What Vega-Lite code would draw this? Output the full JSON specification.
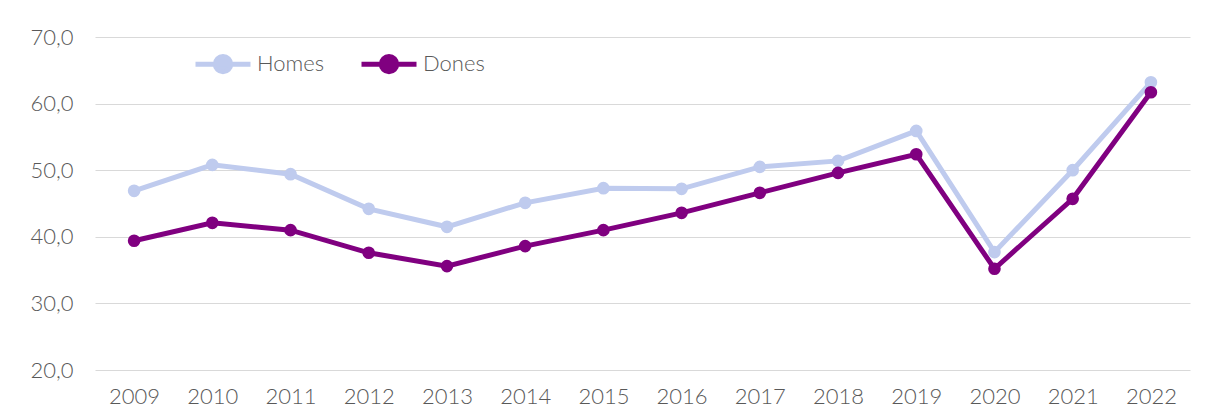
{
  "$schema": "https://vega.github.io/schema/vega-lite/v6.json",
  "width": 1095,
  "height": 333,
  "autosize": {"type": "none"},
  "padding": {"left": 95, "top": 37, "right": 15, "bottom": 50},
  "background": "white",
  "config": {
    "view": {"stroke": null},
    "font": "Lato",
    "axis": {"labelColor": "#595959", "labelFont": "Lato", "labelFontSize": 22, "labelFontWeight": 300}
  },
  "data": {
    "values": [
      {"year": "2009", "sex": "Homes", "value": 46.9},
      {"year": "2010", "sex": "Homes", "value": 50.8},
      {"year": "2011", "sex": "Homes", "value": 49.4},
      {"year": "2012", "sex": "Homes", "value": 44.2},
      {"year": "2013", "sex": "Homes", "value": 41.5},
      {"year": "2014", "sex": "Homes", "value": 45.1},
      {"year": "2015", "sex": "Homes", "value": 47.3},
      {"year": "2016", "sex": "Homes", "value": 47.2},
      {"year": "2017", "sex": "Homes", "value": 50.5},
      {"year": "2018", "sex": "Homes", "value": 51.4},
      {"year": "2019", "sex": "Homes", "value": 55.9},
      {"year": "2020", "sex": "Homes", "value": 37.7},
      {"year": "2021", "sex": "Homes", "value": 50.0},
      {"year": "2022", "sex": "Homes", "value": 63.2},
      {"year": "2009", "sex": "Dones", "value": 39.4},
      {"year": "2010", "sex": "Dones", "value": 42.1},
      {"year": "2011", "sex": "Dones", "value": 41.0},
      {"year": "2012", "sex": "Dones", "value": 37.6},
      {"year": "2013", "sex": "Dones", "value": 35.6},
      {"year": "2014", "sex": "Dones", "value": 38.6},
      {"year": "2015", "sex": "Dones", "value": 41.0},
      {"year": "2016", "sex": "Dones", "value": 43.6},
      {"year": "2017", "sex": "Dones", "value": 46.6},
      {"year": "2018", "sex": "Dones", "value": 49.6},
      {"year": "2019", "sex": "Dones", "value": 52.4},
      {"year": "2020", "sex": "Dones", "value": 35.2},
      {"year": "2021", "sex": "Dones", "value": 45.7},
      {"year": "2022", "sex": "Dones", "value": 61.7}
    ]
  },
  "encoding": {
    "x": {
      "field": "year", "type": "ordinal",
      "scale": {"type": "point", "padding": 0.5},
      "axis": {"title": null, "labelAngle": 0, "domain": false, "ticks": false, "labelPadding": 16, "grid": false}
    },
    "y": {
      "field": "value", "type": "quantitative",
      "scale": {"domain": [20, 70], "nice": false, "zero": false},
      "axis": {
        "title": null, "values": [20, 30, 40, 50, 60, 70],
        "labelExpr": "replace(format(datum.value, '.1f'), '.', ',')",
        "domain": false, "ticks": false, "labelPadding": 22,
        "grid": true, "gridColor": "#d9d9d9", "gridWidth": 1
      }
    },
    "color": {
      "field": "sex", "type": "nominal",
      "scale": {"domain": ["Homes", "Dones"], "range": ["#BFCBEE", "#800080"]},
      "legend": {
        "title": null, "orient": "none", "direction": "horizontal",
        "legendX": 98, "legendY": -3,
        "symbolType": "M-1,0H1M-0.28,0A0.28,0.28,0,1,1,0.28,0A0.28,0.28,0,1,1,-0.28,0",
        "symbolSize": 3025, "symbolStrokeWidth": 5,
        "labelFontSize": 22, "labelFontWeight": 300, "labelColor": "#595959", "labelFont": "Lato",
        "labelOffset": 4, "columnPadding": 26,
        "encode": {"symbols": {"update": {"fill": {"scale": "color", "field": "value"}, "stroke": {"scale": "color", "field": "value"}, "opacity": {"value": 1}}}}
      }
    }
  },
  "layer": [
    {"mark": {"type": "line", "strokeWidth": 5}},
    {"mark": {"type": "point", "filled": true, "size": 160, "opacity": 1}}
  ]
}
